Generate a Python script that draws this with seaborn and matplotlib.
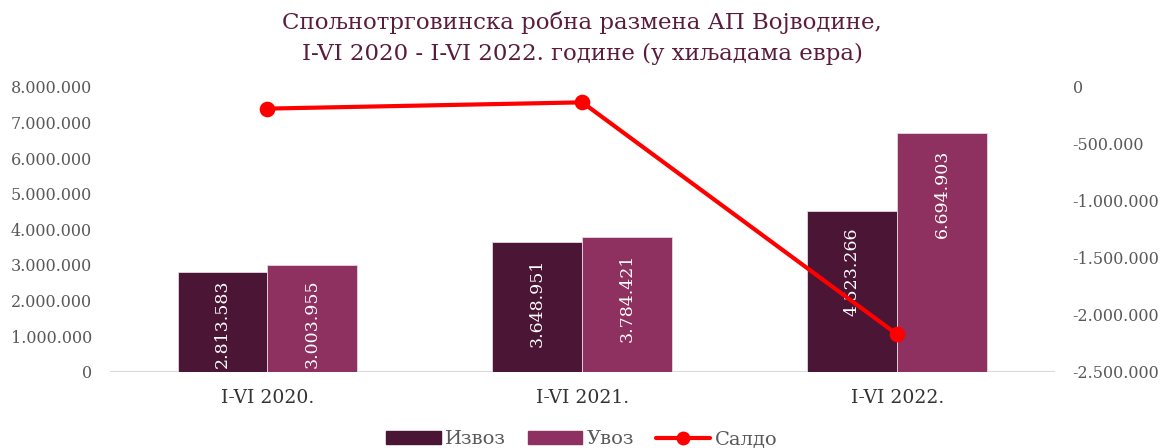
import pandas as pd
import seaborn as sns
import matplotlib.pyplot as plt
from matplotlib.ticker import FuncFormatter, MultipleLocator
from matplotlib.patches import Patch
from matplotlib.lines import Line2D

periods = ["I-VI 2020.", "I-VI 2021.", "I-VI 2022."]
izvoz = [2813583, 3648951, 4523266]
uvoz = [3003955, 3784421, 6694903]
saldo = [-190372, -135470, -2171637]

title = "Спољнотрговинска робна размена АП Војводине,\nI-VI 2020 - I-VI 2022. године (у хиљадама евра)"
c_izvoz = "#4B1535"
c_uvoz = "#8E3160"
c_saldo = "#FF0000"
c_text = "#595959"

sns.set_theme(style="white")
plt.rcParams['font.family'] = ['DejaVu Serif']

df = pd.DataFrame({
    "period": periods * 2,
    "serija": ["Извоз"] * 3 + ["Увоз"] * 3,
    "vrednost": izvoz + uvoz,
})

fig, ax = plt.subplots(figsize=(11.64, 4.48), dpi=100)
fig.subplots_adjust(left=0.0945, right=0.906, bottom=0.17, top=0.806)

sns.barplot(data=df, x="period", y="vrednost", hue="serija",
            palette=[c_izvoz, c_uvoz], saturation=1, width=0.571, gap=0,
            edgecolor="#E8D8E0", linewidth=0.6, legend=False, ax=ax)

ax.set_ylim(0, 8000000)
ax.yaxis.set_major_locator(MultipleLocator(1000000))
fmt = FuncFormatter(lambda v, p: f"{v:,.0f}".replace(",", "."))
ax.yaxis.set_major_formatter(fmt)
ax.set_xlabel("")
ax.set_ylabel("")
for s in ax.spines.values():
    s.set_visible(False)
ax.axhline(0, color="#D9D9D9", lw=1.5, zorder=0.5)
ax.tick_params(axis="y", length=0, labelsize=11.5, labelcolor=c_text, pad=13)
ax.tick_params(axis="x", length=0, labelsize=13.5, labelcolor="#333333", pad=12)

# bar labels inside the top end, rotated
labels = []
for cont in ax.containers:
    for bar in cont:
        h = bar.get_height()
        t = ax.annotate(f"{h:,.0f}".replace(",", "."),
                        (bar.get_x() + bar.get_width() / 2, h),
                        xytext=(0, -12), textcoords="offset points",
                        ha="center", va="top", rotation=90,
                        color="white", fontsize=12.5)
        labels.append((t, bar))

ax2 = ax.twinx()
sns.pointplot(x=periods, y=saldo, color=c_saldo, markers="o",
              linewidth=3, markersize=9, ax=ax2)
ax2.set_ylim(-2500000, 0)
ax2.yaxis.set_major_locator(MultipleLocator(500000))
ax2.yaxis.set_major_formatter(fmt)
for s in ax2.spines.values():
    s.set_visible(False)
ax2.tick_params(axis="y", length=0, labelsize=11.5, labelcolor=c_text, pad=13)
for lbl in ax2.get_yticklabels():
    lbl.set_horizontalalignment("left")
ax2.set_ylabel("")

fig.suptitle(title, fontsize=16.5, color="#5A1C3C", y=0.975, linespacing=1.5)

handles = [Patch(color=c_izvoz), Patch(color=c_uvoz),
           Line2D([], [], color=c_saldo, lw=3, marker="o", markersize=9)]
fig.legend(handles, ["Извоз", "Увоз", "Салдо"], loc="lower center",
           bbox_to_anchor=(0.5, -0.04), ncol=3, frameon=False,
           fontsize=14, labelcolor=c_text, handlelength=2.8,
           handleheight=0.6, handletextpad=0.25, columnspacing=1.1)

# keep labels inside bars if they'd overflow below the baseline
fig.canvas.draw()
r = fig.canvas.get_renderer()
base = ax.transData.transform((0, 0))[1]
for t, bar in labels:
    bb = t.get_window_extent(r)
    if bb.y0 < base + 4:
        shift = (base + 4 - bb.y0) * 72 / fig.dpi
        t.set_position((0, -12 + shift))

fig.savefig("out.png", dpi=100)
